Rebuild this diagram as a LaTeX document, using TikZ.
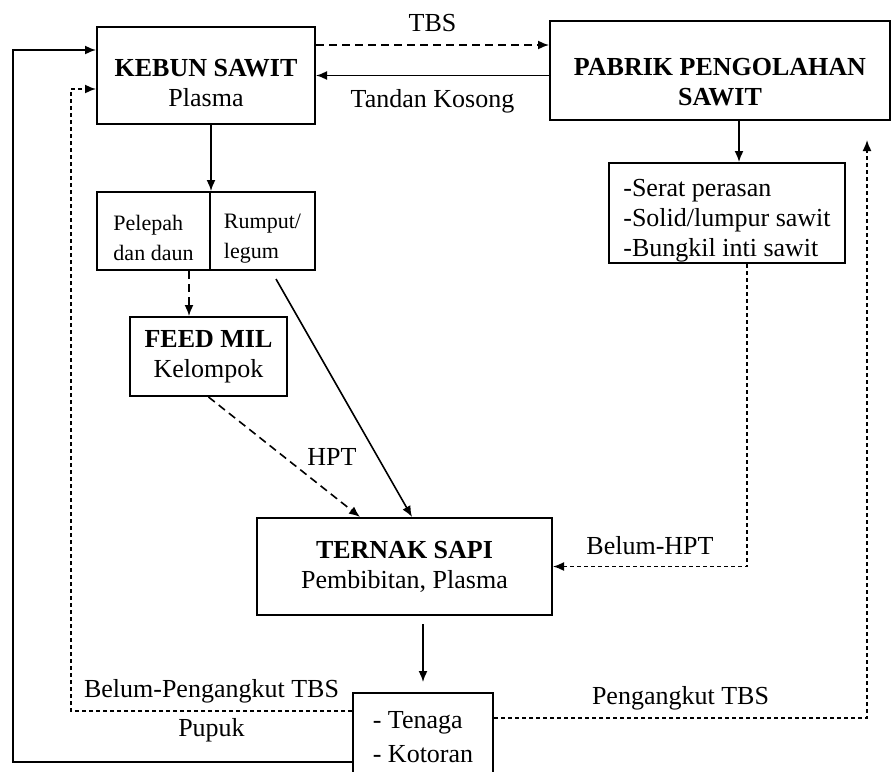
\documentclass[tikz,border=0pt]{standalone}
\usepackage{fontspec}
\setmainfont{Liberation Serif}
\usetikzlibrary{arrows,arrows.meta,calc,positioning}
\tikzset{%
	block/.style     = {draw, rectangle, line width=1pt, text centered, align=center, font=\fontsize{13}{15}\selectfont},
	smallblock/.style= {draw, rectangle, line width=1pt, align=left, font=\fontsize{11}{15}\selectfont},
	lbl/.style       = {font=\fontsize{13}{15}\selectfont},
	arrow/.style     = {line width=0.8pt,-{Latex[length=5.5pt,width=4.5pt]}},
	dasharrow/.style = {arrow,dash pattern=on 4pt off 2.5pt},
	dotarrow/.style  = {arrow,dash pattern=on 2pt off 1.5pt},
}

\begin{document}
\begin{tikzpicture}[x=0.5pt,y=-0.5pt]
	\useasboundingbox (0,0) rectangle (893,771);
	
	\node[block,minimum width=109pt,minimum height=48.5pt] (kebun) at (206,75.5) {\rule{0pt}{16.5pt}\textbf{KEBUN SAWIT}\\Plasma};
	\node[block,minimum width=170pt,minimum height=49.5pt] (pabrik) at (720,70.5) {\rule{0pt}{20pt}\textbf{PABRIK PENGOLAHAN}\\\textbf{SAWIT}};
	
	\node[smallblock,minimum width=56.5pt,minimum height=39pt] (pelepah) at (153.5,231) {\rule{0pt}{15pt}Pelepah\\dan daun};
	\node[smallblock,minimum width=52.5pt,minimum height=39pt] (rumput) at (262.5,231) {\rule{0pt}{15pt}Rumput/\\legum};
	\node[block,minimum width=78.5pt,minimum height=39.5pt] (feedmil) at (208.5,356.5) {\textbf{FEED MIL}\\Kelompok};
	\node[block,align=left,inner ysep=0pt,minimum width=118pt,minimum height=50pt] (limbah) at (727,213) {\rule{0pt}{16pt}-Serat perasan\\-Solid/lumpur sawit\\-Bungkil inti sawit};
	
	\node[block,minimum width=147.5pt,minimum height=48.5pt] (ternak) at (404.5,566.5) {\textbf{TERNAK SAPI}\\Pembibitan, Plasma};
	\node[block,align=left,anchor=north,minimum width=70pt,minimum height=44pt] (tenaga) at (423,692) {- Tenaga\\[2pt]- Kotoran};
	
	\coordinate (tbs) at ([yshift=15.25pt]kebun.east);
	\draw[dasharrow] (tbs) -- (tbs -| pabrik.west) node[midway,above=3pt,lbl] {TBS};
	\draw[arrow] (pabrik.west |- kebun.east) -- (kebun.east) node[midway,below=3pt,lbl] {Tandan Kosong};
	
	\draw[arrow] (pelepah.north east |- kebun.south) -- (pelepah.north east);
	\coordinate (p1) at ([xshift=17.75pt]pelepah.south);
	\draw[dasharrow] (p1) -- (p1 |- feedmil.north);
	\draw[arrow] ([xshift=6.75pt,yshift=-4pt]rumput.south) -- ([xshift=3.75pt]ternak.north);
	\draw[dasharrow] (feedmil.south) -- ([xshift=-22.25pt]ternak.north);
	\node[lbl] (hpt) at (332,457) {HPT};
	
	\coordinate (p2) at ([xshift=6pt]limbah.north);
	\draw[arrow] (p2 |- pabrik.south) -- (p2);
	\coordinate (p3) at ([xshift=10pt]limbah.south);
	\draw[dotarrow] (p3) |- (ternak.east) node[pos=0.75,above=2pt,lbl] {Belum-HPT};
	
	\draw[arrow,shorten <=4pt,shorten >=5pt] (tenaga.north |- ternak.south) -- (tenaga.north);
	
	% loops back to the plantation and the mill
	\coordinate (kiri) at (13,50);
	\draw[arrow] ([yshift=-12.5pt]tenaga.west) -| (kiri) -- (kiri -| kebun.west);
	\coordinate (kiri2) at (71,89);
	\draw[dotarrow] ([yshift=13pt]tenaga.west) -| (kiri2) node[pos=0.25,above,lbl] {Belum-Pengangkut TBS} node[pos=0.25,below,lbl] {Pupuk} -- (kiri2 -| kebun.west);
	\coordinate (ujung) at (867,140);
	\draw[dotarrow] ([yshift=9.5pt]tenaga.east) -| (ujung) node[pos=0.25,above,lbl] {Pengangkut TBS};
\end{tikzpicture}
\end{document}
